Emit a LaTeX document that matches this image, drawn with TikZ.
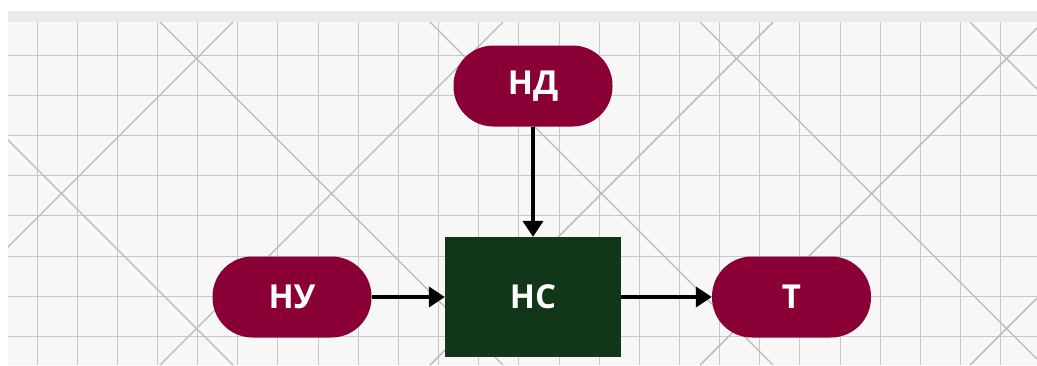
\documentclass[tikz,border=0pt]{standalone}
\usepackage{fontspec}
\setmainfont{Open Sans}
\usetikzlibrary{arrows.meta}
\definecolor{pillred}{HTML}{8A0036}
\definecolor{boxgreen}{HTML}{123618}
\definecolor{gridgray}{HTML}{C8C8C8}
\definecolor{diaggray}{HTML}{BABABA}
\definecolor{bandgray}{HTML}{E9E9EE}
\definecolor{paper}{HTML}{F7F7F7}

\begin{document}
\begin{tikzpicture}[x=1pt,y=-1pt,
    pill/.style={rectangle, rounded corners=40pt, fill=pillred, text=white,
        font=\bfseries\fontsize{33}{33}\selectfont, minimum width=159pt, minimum height=81pt, inner sep=0pt},
    box/.style={rectangle, fill=boxgreen, text=white,
        font=\bfseries\fontsize{33}{33}\selectfont, minimum width=176pt, minimum height=120pt, inner sep=0pt},
    conn/.style={black, line width=4pt, -{Triangle[length=16pt,width=20pt]}}]
            \useasboundingbox (0,0) rectangle (1037,365);
            \fill[white] (0,0) rectangle (1037,365);
            \fill[bandgray] (8,11) rectangle (1037,22);
            \fill[paper] (8,22) rectangle (1037,365);

            % background grid
            \begin{scope}
            \clip (8,22) rectangle (1037,365);
            \foreach \k in {0,...,24}
                \draw[gridgray, line width=0.9pt] ({37+40.15*\k},22) -- ({37+40.15*\k},365);
            \foreach \k in {0,...,7}
                \draw[gridgray, line width=0.9pt] (8,{55+40.2*\k}) -- (1037,{55+40.2*\k});
            \foreach \k in {-2,...,3}
                \draw[diaggray, line width=1.4pt] ({160+270*\k},22) -- ({503+270*\k},365);
            \foreach \k in {-1,...,5}
                \draw[diaggray, line width=1.4pt] ({233+270*\k},22) -- ({-110+270*\k},365);
            \end{scope}

            \node[pill] (nd) at (533,86) {НД};
            \node[box]  (ns) at (533,297) {НС};
            \node[pill] (nu) at (292,297) {НУ};
            \node[pill] (t)  at (791.5,297) {Т};

            \draw[conn] (nd) -- (ns);
            \draw[conn] (nu) -- (ns);
            \draw[conn] (ns) -- (t);
\end{tikzpicture}
\end{document}
